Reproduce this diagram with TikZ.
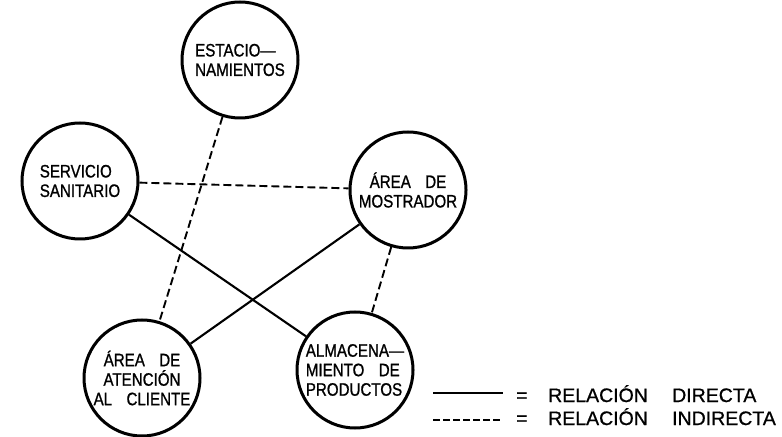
\documentclass[tikz,border=0pt]{standalone}
\usepackage{fontspec}
\setmainfont{Liberation Sans}[FakeBold=0.8]
\newfontfamily\circfont{Liberation Sans}[FakeStretch=0.84,FakeBold=1]
\begin{document}
\begin{tikzpicture}[x=1bp,y=-1bp,
  place/.style={circle, draw, line width=3bp, minimum size=116bp, inner sep=0pt,
    font=\circfont\fontsize{18bp}{19.5bp}\selectfont},
  direct/.style={line width=2.1bp},
  indirect/.style={line width=1.9bp, dash pattern=on 8bp off 4bp},
  legdash/.style={line width=1.8bp, dash pattern=on 7bp off 3bp},
  legtext/.style={anchor=base west, inner sep=0pt, font=\fontsize{19.5bp}{22bp}\selectfont}]
\useasboundingbox (0,0) rectangle (782,437);
\node[place, align=left]   (est)  at (240,60)  {ESTACIO—\\NAMIENTOS};
\node[place, align=left]   (serv) at (80,181)  {SERVICIO\\SANITARIO};
\node[place, align=center] (most) at (408,190) {ÁREA\hspace{0.8em}DE\\MOSTRADOR};
\node[place, align=center] (aten) at (142,378) {ÁREA\hspace{0.8em}DE\\ATENCIÓN\\AL\hspace{0.8em}CLIENTE};
\node[place, align=left]   (alma) at (355,370) {ALMACENA—\\MIENTO\hspace{0.8em}DE\\PRODUCTOS};
\draw[indirect] (est) -- (aten);
\draw[indirect] (serv) -- (most);
\draw[direct] (serv) -- (alma);
\draw[direct] (most) -- (aten);
\draw[indirect] (most) -- (alma);
\coordinate (s1) at (433,393);
\coordinate (s2) at (503,393);
\draw[direct] (s1) -- (s2);
\coordinate (d1) at (433,420);
\coordinate (d2) at (503,420);
\draw[legdash] (d1) -- (d2);
\node[legtext] (t1) at (516,402) {\makebox[32bp][l]{=}\makebox[124bp][l]{RELACIÓN}DIRECTA};
\node[legtext] (t2) at (516,425) {\makebox[32bp][l]{=}\makebox[124bp][l]{RELACIÓN}INDIRECTA};
\end{tikzpicture}
\end{document}
